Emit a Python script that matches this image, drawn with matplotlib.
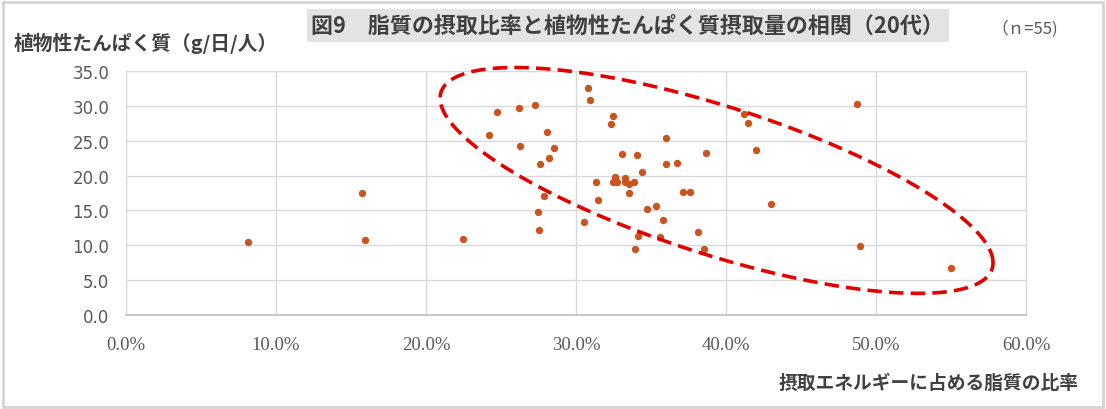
import numpy as np
import matplotlib
matplotlib.use("Agg")
import matplotlib.pyplot as plt
from matplotlib.patches import Rectangle
from matplotlib.ticker import PercentFormatter, MultipleLocator

plt.rcParams["font.family"] = ["Noto Sans CJK JP", "DejaVu Sans"]

# fat share of energy intake (%), plant protein (g/day/person)
fat_pct = [
    8.15, 15.73, 15.95, 22.47, 24.71, 24.22, 26.20, 27.24, 26.24, 28.09,
    28.51, 28.20, 27.62, 27.89, 27.49, 27.53, 30.80, 30.96, 32.47, 32.31,
    36.00, 33.09, 34.07, 38.69, 36.00, 36.74, 34.40, 32.62, 33.24, 32.49,
    32.71, 33.27, 33.56, 33.84, 31.31, 33.56, 31.47, 37.13, 37.60, 34.71,
    35.36, 35.80, 30.51, 34.11, 35.62, 38.13, 33.96, 38.53, 41.20, 41.49,
    42.02, 43.02, 48.76, 48.93, 55.02,
]
plant_protein = [
    10.46, 17.48, 10.74, 10.89, 29.18, 25.83, 29.66, 30.09, 24.17, 26.32,
    24.02, 22.49, 21.63, 17.10, 14.71, 12.22, 32.57, 30.90, 28.51, 27.36,
    25.36, 23.16, 23.02, 23.26, 21.73, 21.80, 20.44, 19.77, 19.67, 19.10,
    19.01, 19.01, 18.77, 19.01, 19.10, 17.44, 16.43, 17.58, 17.67, 15.23,
    15.62, 13.61, 13.32, 11.32, 11.22, 11.89, 9.50, 9.41, 28.90, 27.55,
    23.60, 15.95, 30.28, 9.93, 6.78,
]

title = "図9　脂質の摂取比率と植物性たんぱく質摂取量の相関（20代）"
y_title = "植物性たんぱく質（g/日/人）"
x_title = "摂取エネルギーに占める脂質の比率"
n_note = "（ｎ=55)"

x = np.array(fat_pct) / 100.0
y = np.array(plant_protein)

fig = plt.figure(figsize=(11.06, 4.10), dpi=100)
fig.patch.set_facecolor("white")
fig.patches.append(Rectangle((0.003, 0.005), 0.994, 0.988, transform=fig.transFigure,
                             fill=False, edgecolor="#D4D4D4", linewidth=2))

ax = fig.add_axes([0.1139, 0.2293, 0.8138, 0.5951])
ax.set_xlim(0, 0.6)
ax.set_ylim(0, 35)
ax.xaxis.set_major_locator(MultipleLocator(0.1))
ax.yaxis.set_major_locator(MultipleLocator(5))
ax.xaxis.set_major_formatter(PercentFormatter(xmax=1, decimals=1))
ax.yaxis.set_major_formatter(matplotlib.ticker.FormatStrFormatter("%.1f"))
ax.grid(True, color="#D9D9D9", linewidth=1)
ax.set_axisbelow(True)
for side in ["top", "right", "left"]:
    ax.spines[side].set_color("#D9D9D9")
ax.spines["bottom"].set_color("#BFBFBF")
ax.spines["bottom"].set_linewidth(1.2)
ax.tick_params(length=0, colors="#595959")
for lab in ax.get_xticklabels():
    lab.set_family("Liberation Serif")
    lab.set_fontsize(13.5)
for lab in ax.get_yticklabels():
    lab.set_family("DejaVu Sans")
    lab.set_fontsize(12)
ax.tick_params(axis="x", pad=15)
ax.tick_params(axis="y", pad=12)

ax.scatter(x, y, s=28, color="#C8541E", zorder=3, linewidths=0)

# dashed highlight ellipse (conjugate-diameter form, data units)
cx, cy = 0.3937, 19.3
u = np.array([0.1843, -11.8])
v = np.array([0.0, 11.1])
t = np.linspace(0, 2 * np.pi, 400)
ex = cx + np.cos(t) * u[0] + np.sin(t) * v[0]
ey = cy + np.cos(t) * u[1] + np.sin(t) * v[1]
ax.plot(ex, ey, color="#E00000", linewidth=2.6, dashes=(4, 2), clip_on=False, zorder=4)

fig.text(0.2815, 0.935, title, fontsize=15.8, fontweight="bold", color="#404040",
         ha="left", va="center",
         bbox=dict(boxstyle="square,pad=0.22", facecolor="#E3E3E3", edgecolor="none"))
fig.text(0.0127, 0.895, y_title, fontsize=14.2, fontweight="bold", color="#404040",
         ha="left", va="center")
fig.text(0.957, 0.93, n_note, fontsize=12, color="#595959", ha="right", va="center")
fig.text(0.975, 0.066, x_title, fontsize=13.5, fontweight="bold", color="#404040",
         ha="right", va="center")

fig.savefig("out.png", dpi=100)
